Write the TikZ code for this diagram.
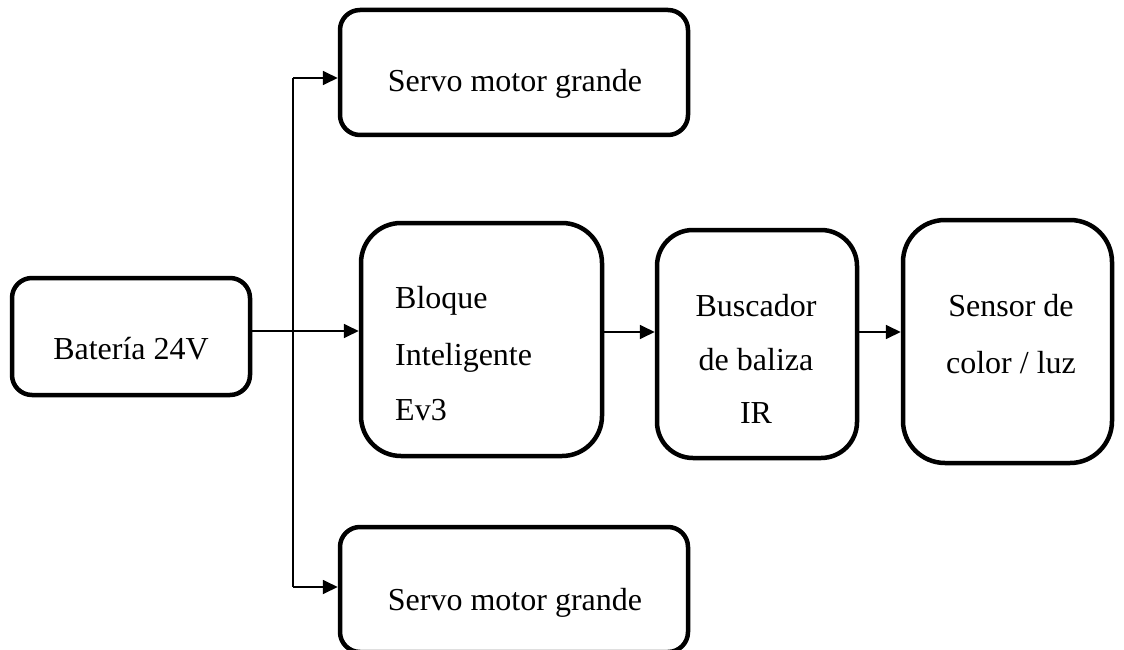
\documentclass[tikz,border=0pt]{standalone}
\usepackage{fontspec}
\setmainfont{Liberation Serif}
\usetikzlibrary{arrows.meta}
\tikzset{
  box/.style={draw=black, line width=4.5pt, fill=white, inner sep=0pt},
  lbl/.style={anchor=base, inner sep=0pt, font=\fontsize{32}{38}\selectfont},
  conn/.style={draw=black, line width=1.8pt},
  arr/.style={conn, -{Triangle[length=15pt,width=14pt]}},
}
\begin{document}
\begin{tikzpicture}[x=1pt,y=-1pt]
\useasboundingbox (0,0) rectangle (1124,650);
% boxes
\node[box, rounded corners=20pt, minimum width=238pt, minimum height=117pt] (bat) at (131,336.5) {};
\node[box, rounded corners=20pt, minimum width=348pt, minimum height=125pt] (s1) at (514,72.5) {};
\node[box, rounded corners=20pt, minimum width=348pt, minimum height=125pt] (s2) at (514,589.5) {};
\node[box, rounded corners=40pt, minimum width=241pt, minimum height=233pt] (blq) at (481.5,339.5) {};
\node[box, rounded corners=36pt, minimum width=200pt, minimum height=228pt] (bus) at (757,344) {};
\node[box, rounded corners=42pt, minimum width=209pt, minimum height=243pt] (sen) at (1007.5,341.5) {};
% labels
\node[lbl] (tbat) at (131,359) {Batería 24V};
\node[lbl] (ts1) at (515,92) {Servo motor grande};
\node[lbl] (ts2) at (515,610) {Servo motor grande};
\node[lbl, anchor=base west] (tb1) at (395,308) {Bloque};
\node[lbl, anchor=base west] (tb2) at (395,365) {Inteligente};
\node[lbl, anchor=base west] (tb3) at (395,420) {Ev3};
\node[lbl] (tu1) at (756,316) {Buscador};
\node[lbl] (tu2) at (756,370) {de baliza};
\node[lbl] (tu3) at (756,423) {IR};
\node[lbl] (te1) at (1011,316) {Sensor de};
\node[lbl] (te2) at (1011,373) {color / luz};
% connectors
\coordinate (j) at (293,331);
\coordinate (jt) at (293,78);
\coordinate (jb) at (293,587);
\draw[conn] (bat.east |- j) -- (j);
\draw[arr] (j) -- (blq.west |- j);
\draw[conn] (jt) -- (jb);
\draw[arr] (jt) -- (s1.west |- jt);
\draw[arr] (jb) -- (s2.west |- jb);
\coordinate (m) at (0,332);
\draw[arr] (blq.east |- m) -- (bus.west |- m);
\draw[arr] (bus.east |- m) -- (sen.west |- m);
\end{tikzpicture}
\end{document}
